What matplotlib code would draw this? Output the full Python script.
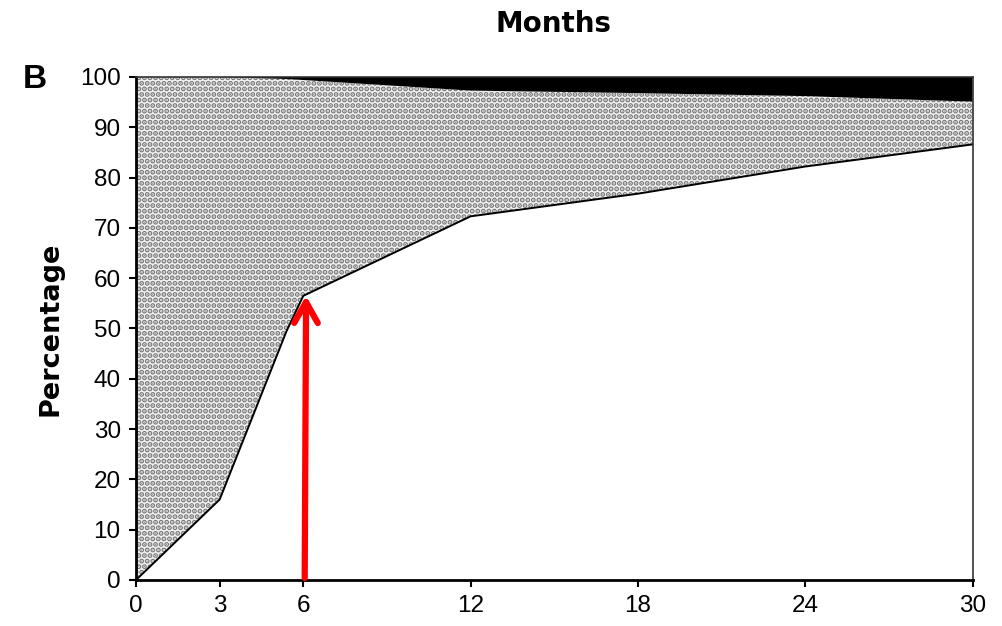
import matplotlib
matplotlib.use("Agg")
import matplotlib.pyplot as plt
import numpy as np

# Follow-up time (months) and cumulative percentages
months = [0, 3, 5.4, 6, 12, 18, 24, 30]
lower_pct = [0, 16, 49.5, 56.5, 72.3, 76.8, 82.2, 86.6]
upper_pct = [100, 100, 99.6, 99.4, 97.3, 96.8, 96.2, 95.1]

x_ticks = [0, 3, 6, 12, 18, 24, 30]
y_ticks = list(range(0, 101, 10))
arrow_month = 6

plt.rcParams["hatch.linewidth"] = 2.6

fig = plt.figure(figsize=(10.03, 6.26), dpi=100)
ax = fig.add_axes([0.1356, 0.0735, 0.834, 0.8035])

# stippled band between the two curves
ax.fill_between(months, lower_pct, upper_pct, facecolor="#f2f2f2",
                edgecolor="#7a7a7a", hatch="...", linewidth=0)
# solid band above the upper curve
ax.fill_between(months, upper_pct, 100, facecolor="black", linewidth=0)
ax.plot(months, lower_pct, color="black", lw=1.4)

ax.set_xlim(0, 30)
ax.set_ylim(0, 100)
ax.set_xticks(x_ticks)
ax.set_yticks(y_ticks)
ax.tick_params(axis="both", labelsize=17.5, length=5, width=1.5,
               direction="out", pad=6)
for lab in ax.get_xticklabels() + ax.get_yticklabels():
    lab.set_fontfamily("Liberation Sans")

for side in ["left", "bottom"]:
    ax.spines[side].set_linewidth(2)
for side in ["top", "right"]:
    ax.spines[side].set_linewidth(1.2)
    ax.spines[side].set_color("#333333")

ax.set_ylabel("Percentage", fontsize=19.5, fontweight="heavy", labelpad=12)
fig.text(0.552, 0.962, "Months", fontsize=20, fontweight="heavy",
         ha="center", va="center")
fig.text(0.035, 0.873, "B", fontsize=24, fontweight="bold",
         family="Liberation Sans", ha="center", va="center")

# arrow marking the 6-month point
ax.annotate("", xy=(arrow_month + 0.1, lower_pct[3]),
            xytext=(arrow_month + 0.05, 0.4),
            arrowprops=dict(arrowstyle="->,head_length=1.5,head_width=0.85",
                            color="red", lw=4.5, shrinkA=0, shrinkB=0))

fig.savefig("out.png", dpi=100)
